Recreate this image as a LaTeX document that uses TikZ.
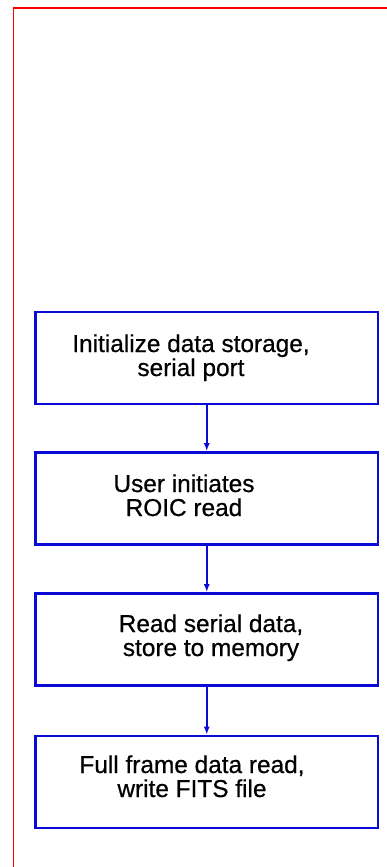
\documentclass[tikz,border=0pt]{standalone}
\usepackage{fontspec}
\setmainfont{Liberation Sans}
\newfontfamily\stepfont[FakeBold=0.6]{Liberation Sans}
\usetikzlibrary{arrows.meta}
\definecolor{boxblue}{RGB}{10,10,215}
\definecolor{framered}{RGB}{255,0,0}
\begin{document}
\begin{tikzpicture}[x=1pt,y=-1pt,
  stepbox/.style={draw=boxblue,line width=2.6pt,minimum width=342.5pt,minimum height=92pt,inner sep=0pt},
  steptext/.style={anchor=base,align=center,inner sep=0pt,text=black,font=\stepfont\fontsize{24.4}{24}\selectfont},
  flow/.style={draw=boxblue,line width=1.8pt,-{Latex[length=8pt,width=6pt]}}]
\useasboundingbox (0,0) rectangle (386,867);
\fill[white] (0,0) rectangle (386,867);
\draw[framered,line width=1.8pt] (13.5,868) -- (13.5,8.3) -- (387,8.3);
\node[stepbox] (b1) at (206.75,358) {};
\node[stepbox] (b2) at (206.75,498.5) {};
\node[stepbox] (b3) at (206.75,639.5) {};
\node[stepbox] (b4) at (206.75,782) {};
\node[steptext] (t1) at (191,376) {Initialize data storage,\\serial port};
\node[steptext] (t2) at (184,516) {User initiates\\ROIC read};
\node[steptext] (t3) at (211,656) {Read serial data,\\store to memory};
\node[steptext] (t4) at (192,797) {Full frame data read,\\write FITS file};
\draw[flow] (b1) -- (b2);
\draw[flow] (b2) -- (b3);
\draw[flow] (b3) -- (b4);
\end{tikzpicture}
\end{document}
